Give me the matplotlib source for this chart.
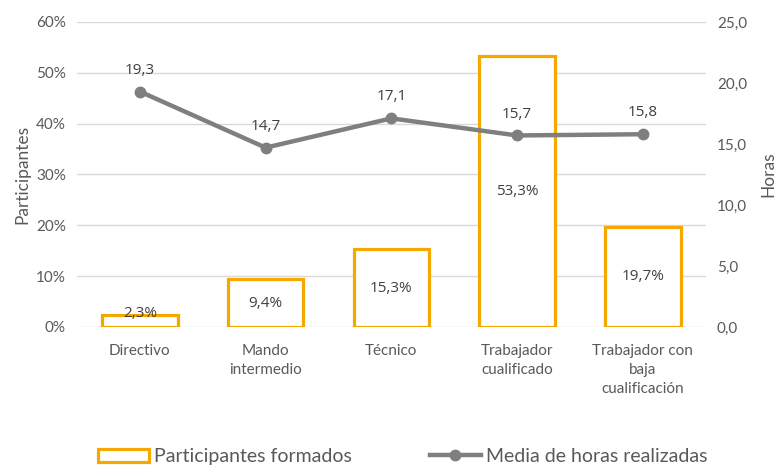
import matplotlib.pyplot as plt
from matplotlib.patches import Patch
from matplotlib.lines import Line2D

# Chart data
categories = ["Directivo", "Mando\nintermedio", "Técnico", "Trabajador\ncualificado",
              "Trabajador con\nbaja\ncualificación"]
participantes = [2.3, 9.4, 15.3, 53.3, 19.7]   # % of participants
horas = [19.3, 14.7, 17.1, 15.7, 15.8]          # average hours

orange = "#F5A800"
grey_line = "#7F7F7F"
text_grey = "#595959"
grid_grey = "#D9D9D9"

plt.rcParams["font.family"] = ["Lato", "DejaVu Sans"]

fig = plt.figure(figsize=(7.81, 4.65), dpi=100)
ax = fig.add_axes([0.0986, 0.2968, 0.805, 0.6559])
ax2 = ax.twinx()

x = list(range(len(categories)))

# Bars (hollow, orange outline)
ax.bar(x, participantes, width=0.6, facecolor="white", edgecolor=orange, linewidth=2.3, zorder=2)
for xi, v in zip(x, participantes):
    ax.text(xi, max(v / 2, 2.7), f"{v:.1f}%".replace(".", ","), ha="center", va="center",
            fontsize=11, color="#404040", family=["Open Sans", "DejaVu Sans"], zorder=5)

ax.set_xlim(-0.5, len(categories) - 0.5)
ax.set_ylim(0, 60)
ax.set_yticks(range(0, 61, 10))
ax.set_yticklabels([f"{t}%" for t in range(0, 61, 10)])
ax.grid(axis="y", color=grid_grey, linewidth=1)
ax.set_axisbelow(True)
ax.set_xticks(x)
ax.set_xticklabels(categories, linespacing=1.45)
ax.set_ylabel("Participantes", fontsize=12.5, color=text_grey, labelpad=4)

# Line on secondary axis
ax2.plot(x, horas, color=grey_line, linewidth=3.2, marker="o", markersize=7.5, zorder=4)
for xi, h in zip(x, horas):
    ax2.annotate(f"{h:.1f}".replace(".", ","), (xi, h), xytext=(0, 10), textcoords="offset points",
                 ha="center", va="bottom", fontsize=11, color="#404040",
                 family=["Open Sans", "DejaVu Sans"])
ax2.set_ylim(0, 25)
ax2.set_yticks(range(0, 26, 5))
ax2.set_yticklabels([f"{t},0" for t in range(0, 26, 5)])
ax2.set_ylabel("Horas", fontsize=12.5, color=text_grey, labelpad=10)

for a in (ax, ax2):
    for s in a.spines.values():
        s.set_visible(False)
    a.tick_params(length=0, labelsize=11, colors=text_grey, pad=8)
ax.tick_params(axis="x", pad=12)

handles = [
    Patch(facecolor="white", edgecolor=orange, linewidth=2.3),
    Line2D([0], [0], color=grey_line, linewidth=3.2, marker="o", markersize=7.5),
]
fig.legend(handles, ["Participantes formados", "Media de horas realizadas"],
           loc="center", bbox_to_anchor=(0.516, 0.018), ncol=2, frameon=False,
           fontsize=14, labelcolor=text_grey, handlelength=2.6, handleheight=0.7,
           handletextpad=0.3, columnspacing=4.0)

fig.savefig("out.png", dpi=100)
